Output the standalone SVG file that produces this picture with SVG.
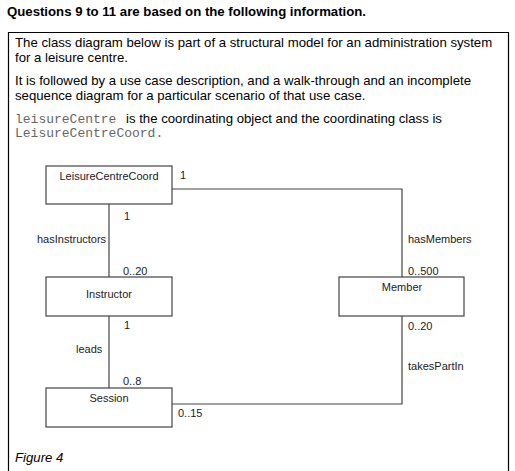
<svg xmlns="http://www.w3.org/2000/svg" width="515" height="471" viewBox="0 0 515 471">
<style>
.t{font-family:"Liberation Sans",Arial,sans-serif;font-size:13.2px;fill:#000}
.b{font-weight:bold}
.m{font-family:"Liberation Mono","Courier New",monospace;font-size:13px;fill:#666}
.l{font-family:"Liberation Sans",Arial,sans-serif;font-size:11px;fill:#222}
.c{text-anchor:middle}
.box{fill:#fff;stroke:#444;stroke-width:1.2}
.ln{fill:none;stroke:#444;stroke-width:1.2}
</style>
<rect width="515" height="471" fill="#fff"/>
<text class="t b" x="7" y="16">Questions 9 to 11 are based on the following information.</text>
<path d="M8.5,471 V32.5 H508.5 V471" fill="none" stroke="#000" stroke-width="1.2"/>
<text class="t" x="15" y="47">The class diagram below is part of a structural model for an administration system</text>
<text class="t" x="15" y="62">for a leisure centre.</text>
<text class="t" x="15" y="85">It is followed by a use case description, and a walk-through and an incomplete</text>
<text class="t" x="15" y="100">sequence diagram for a particular scenario of that use case.</text>
<text x="15" y="123"><tspan class="m">leisureCentre</tspan><tspan class="t" x="126">is the coordinating object and the coordinating class is</tspan></text>
<text class="m" x="15" y="137">LeisureCentreCoord.</text>
<g id="connectors">
<path class="ln" d="M172,189 H402 V277"/>
<path class="ln" d="M109,204 V277"/>
<path class="ln" d="M109,316 V388"/>
<path class="ln" d="M172,404 H402 V316"/>
<text class="l" x="180" y="179">1</text>
<text class="l" x="124" y="220">1</text>
<text class="l" x="37" y="243">hasInstructors</text>
<text class="l" x="123" y="275">0..20</text>
<text class="l" x="408" y="243">hasMembers</text>
<text class="l" x="408" y="275">0..500</text>
<text class="l" x="124" y="329">1</text>
<text class="l" x="76" y="353">leads</text>
<text class="l" x="123" y="385">0..8</text>
<text class="l" x="178" y="417">0..15</text>
<text class="l" x="408" y="330">0..20</text>
<text class="l" x="408" y="370">takesPartIn</text>
</g>
<g id="LeisureCentreCoord">
<rect class="box" x="46" y="166" width="126" height="38"/>
<text class="l c" x="109" y="180">LeisureCentreCoord</text>
</g>
<g id="Instructor">
<rect class="box" x="46" y="277" width="126" height="39"/>
<text class="l c" x="109" y="298">Instructor</text>
</g>
<g id="Member">
<rect class="box" x="339" y="277" width="125" height="39"/>
<text class="l c" x="402" y="291">Member</text>
</g>
<g id="Session">
<rect class="box" x="46" y="388" width="126" height="39"/>
<text class="l c" x="109" y="402">Session</text>
</g>
<text class="t" x="15" y="462" font-style="italic">Figure 4</text>
</svg>
